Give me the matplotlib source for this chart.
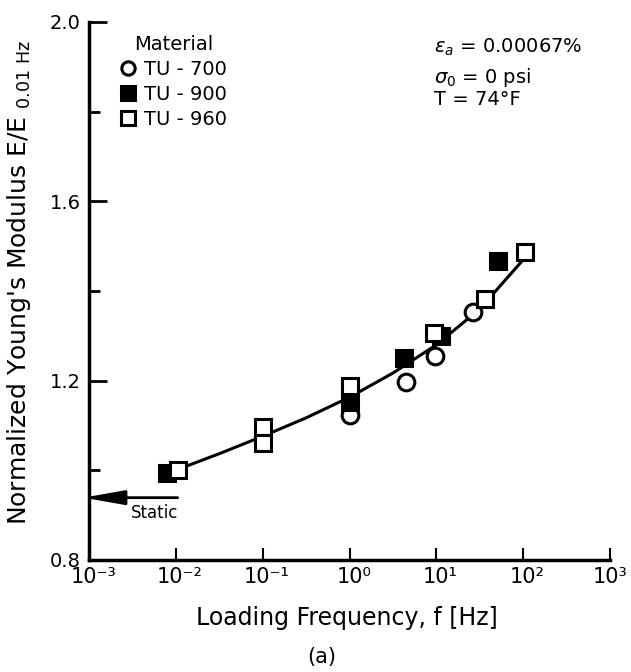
import matplotlib
matplotlib.use("Agg")
import matplotlib.pyplot as plt
import matplotlib.transforms as mtransforms
from matplotlib.ticker import FixedLocator, NullLocator

# values
tu700_f = [1.0, 4.5, 9.5, 26.7]
tu700_E = [1.124, 1.196, 1.254, 1.352]

tu900_f = [0.008, 1.0, 4.2, 11.2, 51.6]
tu900_E = [0.994, 1.153, 1.251, 1.300, 1.466]

tu960_f = [0.0105, 0.1, 0.1, 1.0, 9.3, 36.6, 105.0]
tu960_E = [1.001, 1.097, 1.061, 1.187, 1.307, 1.383, 1.486]

# fitted trend line as drawn in the figure
curve_f = [0.0105, 0.0316, 0.1, 0.316, 1.0, 3.16, 10.0, 31.6, 100.0, 105.0]
curve_E = [1.002, 1.037, 1.076, 1.117, 1.163, 1.217, 1.280, 1.360, 1.470, 1.484]

static_E = 0.939

x_ticks = [1e-3, 1e-2, 1e-1, 1e0, 1e1, 1e2, 1e3]
x_ticklabels = ['10⁻³', '10⁻²', '10⁻¹', '10⁰', '10¹', '10²', '10³']
y_ticks = [0.8, 1.2, 1.6, 2.0]
y_ticklabels = ['0.8', '1.2', '1.6', '2.0']
y_minor = [1.0, 1.4, 1.8]

plt.rcParams['font.family'] = ['DejaVu Sans']

fig = plt.figure(figsize=(6.31, 6.72), dpi=100)
ax = fig.add_axes([0.141, 0.1667, 0.826, 0.8006])

ax.plot(curve_f, curve_E, color='black', lw=2.2, zorder=2)

ms = 12
ax.plot(tu700_f, tu700_E, 'o', ms=ms, mfc='white', mec='black', mew=2.2,
        label='TU - 700', zorder=3)
ax.plot(tu900_f, tu900_E, 's', ms=ms, mfc='black', mec='black', mew=2.2,
        label='TU - 900', zorder=4)
ax.plot(tu960_f, tu960_E, 's', ms=ms, mfc='white', mec='black', mew=2.2,
        label='TU - 960', zorder=5)

ax.set_xscale('log')
ax.set_xlim(1e-3, 1e3)
ax.set_ylim(0.8, 2.0)
ax.xaxis.set_major_locator(FixedLocator(x_ticks))
ax.xaxis.set_minor_locator(NullLocator())
ax.set_xticklabels(x_ticklabels)
ax.yaxis.set_major_locator(FixedLocator(y_ticks))
ax.yaxis.set_minor_locator(FixedLocator(y_minor))
ax.set_yticklabels(y_ticklabels)

for s in ['top', 'right']:
    ax.spines[s].set_visible(False)
for s in ['left', 'bottom']:
    ax.spines[s].set_linewidth(2.5)

ax.tick_params(axis='x', which='major', direction='in', length=9, width=1.5,
               labelsize=15, pad=5)
ax.tick_params(axis='y', which='major', direction='in', length=13, width=2,
               labelsize=14, pad=6)
ax.tick_params(axis='y', which='minor', direction='in', length=8, width=2)

# x tick labels sit a little right of their ticks in the original
shift = mtransforms.ScaledTranslation(3 / 72, 0, fig.dpi_scale_trans)
for lbl in ax.get_xticklabels()[:-1]:
    lbl.set_transform(lbl.get_transform() + shift)

ax.set_xlabel('Loading Frequency, f [Hz]', fontsize=17)
ax.xaxis.set_label_coords(0.495, -0.085)
ax.set_ylabel(r"Normalized Young's Modulus E/E $_{\mathregular{0.01\ Hz}}$", fontsize=18)
ax.yaxis.set_label_coords(-0.108, 0.515)

# static value arrow
ax.annotate('', xy=(0.00086, static_E), xytext=(0.0105, static_E),
            arrowprops=dict(arrowstyle='-|>,head_length=1.25,head_width=0.22',
                            color='black', lw=2, mutation_scale=20,
                            shrinkA=0, shrinkB=0), annotation_clip=False)
ax.text(0.0057, 0.905, 'Static', fontsize=12, ha='center', va='center')

leg = ax.legend(title='Material', loc='upper left', bbox_to_anchor=(0.045, 0.99),
                frameon=False, fontsize=14, title_fontsize=14, handlelength=0.8,
                handletextpad=0.4, labelspacing=0.3, markerscale=0.8,
                borderaxespad=0)

ax.text(0.662, 0.952, r'$\varepsilon_a$ = 0.00067%', transform=ax.transAxes,
        fontsize=14, va='center')
ax.text(0.662, 0.897, r'$\sigma_0$ = 0 psi', transform=ax.transAxes,
        fontsize=14, va='center')
ax.text(0.662, 0.855, 'T = 74°F', transform=ax.transAxes,
        fontsize=14, va='center')

fig.text(0.51, 0.022, '(a)', fontsize=15, ha='center', va='center')

fig.savefig('out.png', dpi=100)
